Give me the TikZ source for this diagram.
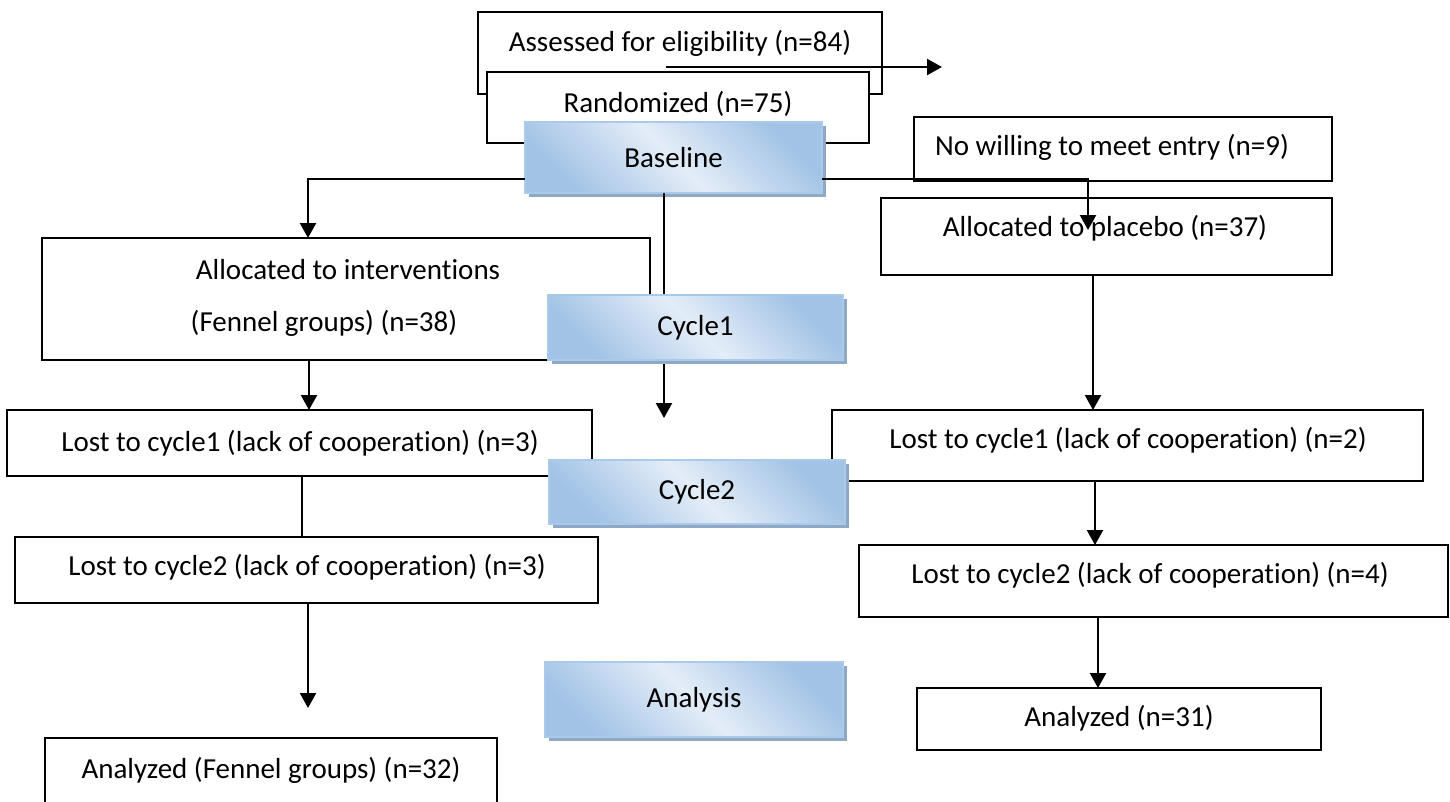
\documentclass[tikz,border=0pt]{standalone}
\usepackage{fontspec}
\setmainfont{Carlito}[Ligatures=NoCommon]
\usetikzlibrary{arrows.meta,shadows}
\definecolor{bluedark}{HTML}{A2C3E6}
\definecolor{bluelight}{HTML}{E4EDF8}
\definecolor{blueedge}{HTML}{A9CAEA}
\definecolor{blueshadow}{HTML}{8EA8C6}
\begin{document}
\begin{tikzpicture}[x=1pt,y=-1pt,
  box/.style={draw=black, line width=2.2pt, fill=white, inner sep=0pt, outer sep=0pt},
  phase/.style={draw=blueedge, line width=1.6pt, inner sep=0pt, outer sep=0pt,
    font=\fontsize{29}{35}\selectfont,
    left color=bluedark, right color=bluedark, middle color=bluelight, shading angle=135,
    general shadow={fill=blueshadow, draw=none, shadow xshift=4pt, shadow yshift=-4pt}},
  txt/.style={inner sep=0pt, outer sep=0pt, font=\fontsize{29}{35}\selectfont},
  arr/.style={draw=black, line width=2.2pt, -{Triangle[length=15pt,width=16pt]}},
  ln/.style={draw=black, line width=2.2pt}]
\path[use as bounding box] (0,0) rectangle (1450,801);
\clip (0,0) rectangle (1450,801);

% top boxes
\node[box, minimum width=404pt, minimum height=82pt] (assess) at (680,53) {};
\node[txt] (assessT) at (680,43) {Assessed for eligibility (n=84)};
\coordinate (ta) at (666,67);
\coordinate (tb) at (942,67);
\draw[arr] (ta) -- (tb);
\node[box, minimum width=382pt, minimum height=71pt] (rand) at (678,107.5) {};
\node[txt] (randT) at (678,104) {Randomized (n=75)};

\node[box, minimum width=418pt, minimum height=64pt] (nowill) at (1123,149) {};
\node[txt] (nowillT) at (1112,147) {No willing to meet entry (n=9)};
\node[box, minimum width=451pt, minimum height=77pt] (placebo) at (1106.5,236.5) {};
\node[txt] (placeboT) at (1105,228) {Allocated to placebo (n=37)};

\node[box, minimum width=608pt, minimum height=122pt] (interv) at (346,299) {};
\node[txt] (intervT1) at (348,270) {Allocated to interventions};
\node[txt] (intervT2) at (324,323) {(Fennel groups) (n=38)};

% baseline
\node[phase, minimum width=297pt, minimum height=71pt] (base) at (673.5,157.5) {Baseline};
\coordinate (bl) at (308,179);
\coordinate (br) at (1088,179);
\coordinate (brend) at (1088,230);
\coordinate (cend) at (664,418);
\draw[arr] (base.west |- bl) -| (interv.north -| bl);
\draw[arr] (base.east |- br) -| (brend);
\draw[arr] (base.south -| cend) -- (cend);

\node[phase, minimum width=295pt, minimum height=65pt] (cycle1) at (695.5,327.5) {Cycle1};

% lost to cycle 1
\node[box, minimum width=585pt, minimum height=66pt] (lost1L) at (299.5,443) {};
\node[txt] (lost1LT) at (300,443) {Lost to cycle1 (lack of cooperation) (n=3)};
\node[box, minimum width=591pt, minimum height=71pt] (lost1R) at (1127.5,445.5) {};
\node[txt] (lost1RT) at (1128,440) {Lost to cycle1 (lack of cooperation) (n=2)};
\coordinate (c1) at (309,0);
\coordinate (c2) at (1093,0);
\draw[arr] (interv.south -| c1) -- (lost1L.north -| c1);
\draw[arr] (placebo.south -| c2) -- (lost1R.north -| c2);

\node[phase, minimum width=296pt, minimum height=64pt] (cycle2) at (697,492) {Cycle2};

% lost to cycle 2
\node[box, minimum width=583pt, minimum height=66pt] (lost2L) at (306.5,570) {};
\node[txt] (lost2LT) at (307,567) {Lost to cycle2 (lack of cooperation) (n=3)};
\node[box, minimum width=589pt, minimum height=72pt] (lost2R) at (1153.5,581) {};
\node[txt] (lost2RT) at (1150,575) {Lost to cycle2 (lack of cooperation) (n=4)};
\coordinate (c3) at (302,0);
\coordinate (c4) at (1095,0);
\draw[ln] (lost1L.south -| c3) -- (lost2L.north -| c3);
\draw[arr] (lost1R.south -| c4) -- (lost2R.north -| c4);

% analysis
\node[phase, minimum width=298pt, minimum height=75pt] (analysis) at (694,699.5) {Analysis};
\node[box, minimum width=452pt, minimum height=92pt] (anaL) at (271,784) {};
\node[txt] (anaLT) at (271,770) {Analyzed (Fennel groups) (n=32)};
\node[box, minimum width=404pt, minimum height=62pt] (anaR) at (1119,719) {};
\node[txt] (anaRT) at (1119,718) {Analyzed (n=31)};
\coordinate (lend) at (308,708);
\coordinate (c5) at (1098,0);
\draw[arr] (lost2L.south -| lend) -- (lend);
\draw[arr] (lost2R.south -| c5) -- (anaR.north -| c5);
\end{tikzpicture}
\end{document}
